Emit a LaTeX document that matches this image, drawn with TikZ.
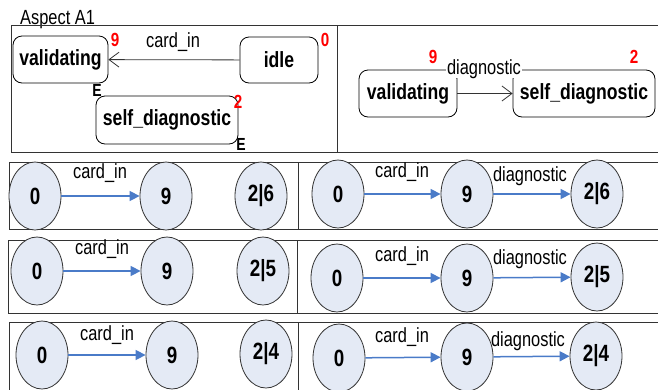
\documentclass[tikz,border=0pt]{standalone}
\usepackage{fontspec}
\setmainfont[FakeStretch=0.8]{Liberation Sans}
\usetikzlibrary{arrows.meta,shapes.geometric}
\definecolor{cfill}{HTML}{E4EAF5}
\definecolor{carrow}{HTML}{4A7BC8}
\definecolor{cbox}{HTML}{333333}
\begin{document}
\begin{tikzpicture}[x=1pt,y=-1pt,
 st/.style={draw=black, line width=0.8pt, rounded corners=9pt, inner sep=0pt, font=\fontsize{22}{26}\selectfont\bfseries},
 circ/.style={ellipse, draw=black!80, fill=cfill, line width=0.8pt, minimum width=52pt, minimum height=68pt, inner sep=0pt, font=\fontsize{23.5}{26}\selectfont\bfseries},
 lbl/.style={font=\fontsize{20.5}{23}\selectfont, inner sep=0pt, anchor=base},
 rednum/.style={text=red, font=\fontsize{19}{21}\selectfont\bfseries, inner sep=0pt, anchor=base},
 emark/.style={font=\fontsize{17.5}{19}\selectfont\bfseries, inner sep=0pt, anchor=base},
 panel/.style={draw=cbox, line width=1pt},
 flow/.style={draw=carrow, line width=1.5pt, -{Triangle[length=10pt,width=10pt]}},
 trans/.style={draw=black!80, line width=0.8pt, -{Straight Barb[length=10pt,width=15pt]}}]
\useasboundingbox (0,0) rectangle (658,389);
% top panel
\node[lbl, anchor=base west] (title) at (20,24) {Aspect A1};
\draw[panel] (11,25) rectangle (337,152);
\draw[panel] (337,25) rectangle (664,152);
% top-left
\node[st, minimum width=95pt, minimum height=47pt] (va) at (60.5,59.5) {validating};
\node[st, minimum width=78pt, minimum height=46pt] (idle) at (279,60) {idle};
\node[st, minimum width=142pt, minimum height=48pt] (sd) at (167,120) {self\_diagnostic};
\draw[trans] (idle) -- (va);
\node[lbl] (l1) at (173,47) {card\_in};
\node[rednum] (n9a) at (115,46.5) {9};
\node[rednum] (n0a) at (325,46) {0};
\node[emark] (e1) at (97,96.5) {E};
\node[rednum] (n2a) at (238,108) {2};
\node[emark] (e2) at (241,150) {E};
% top-right
\node[st, minimum width=98pt, minimum height=47pt] (rva) at (408,93.5) {validating};
\node[st, minimum width=142pt, minimum height=47pt] (rsd) at (584,93.5) {self\_diagnostic};
\draw[trans] (rva) -- (rsd);
\draw[line width=0.8pt] (rva.north east) -- (rsd.north west);
\node[lbl, fill=white, inner xsep=1pt] (dl) at (484,74) {diagnostic};
\node[rednum] (n9b) at (433,63) {9};
\node[rednum] (n2b) at (634,63) {2};
% row boxes
\draw[panel] (9,162) rectangle (298,229);
\draw[panel] (298,162) rectangle (664,229);
\draw[panel] (8,240) rectangle (297,313);
\draw[panel] (297,240) rectangle (664,313);
\draw[panel] (9,322) rectangle (298,395);
\draw[panel] (298,322) rectangle (664,395);
% row 1
\node[circ] (a0) at (35,196) {0};
\node[circ] (a9) at (166,196) {9};
\node[circ] (a2) at (261,196) {2|6};
\draw[flow] (a0) -- (a9);
\node[lbl] (al) at (100,178) {card\_in};
\node[circ] (b0) at (338,194) {0};
\node[circ] (b9) at (467,194) {9};
\node[circ] (b2) at (597,194) {2|6};
\draw[flow] (b0) -- (b9);
\draw[flow] (b9) -- (b2);
\node[lbl] (bl1) at (402,177) {card\_in};
\node[lbl] (bl2) at (530,181) {diagnostic};
% row 2
\node[circ] (c0) at (37,271) {0};
\node[circ] (c9) at (167,271) {9};
\node[circ] (c2) at (263,271) {2|5};
\draw[flow] (c0) -- (c9);
\node[lbl] (cl) at (102,254) {card\_in};
\node[circ] (d0) at (337,278) {0};
\node[circ] (d9) at (467,278) {9};
\node[circ] (d2) at (597,277) {2|5};
\draw[flow] (d0) -- (d9);
\draw[flow] (d9) -- (d2);
\node[lbl] (dl1) at (402,261) {card\_in};
\node[lbl] (dl2) at (530,264) {diagnostic};
% row 3
\node[circ] (e0) at (42,355) {0};
\node[circ] (e9) at (172,355) {9};
\node[circ] (e2) at (266,354) {2|4};
\draw[flow] (e0) -- (e9);
\node[lbl] (el) at (107,340) {card\_in};
\node[circ] (f0) at (339,358) {0};
\node[circ] (f9) at (467,357) {9};
\node[circ] (f2) at (596,356) {2|4};
\draw[flow] (f0) -- (f9);
\draw[flow] (f9) -- (f2);
\node[lbl] (fl1) at (402,342) {card\_in};
\node[lbl] (fl2) at (528,346) {diagnostic};
\end{tikzpicture}
\end{document}
